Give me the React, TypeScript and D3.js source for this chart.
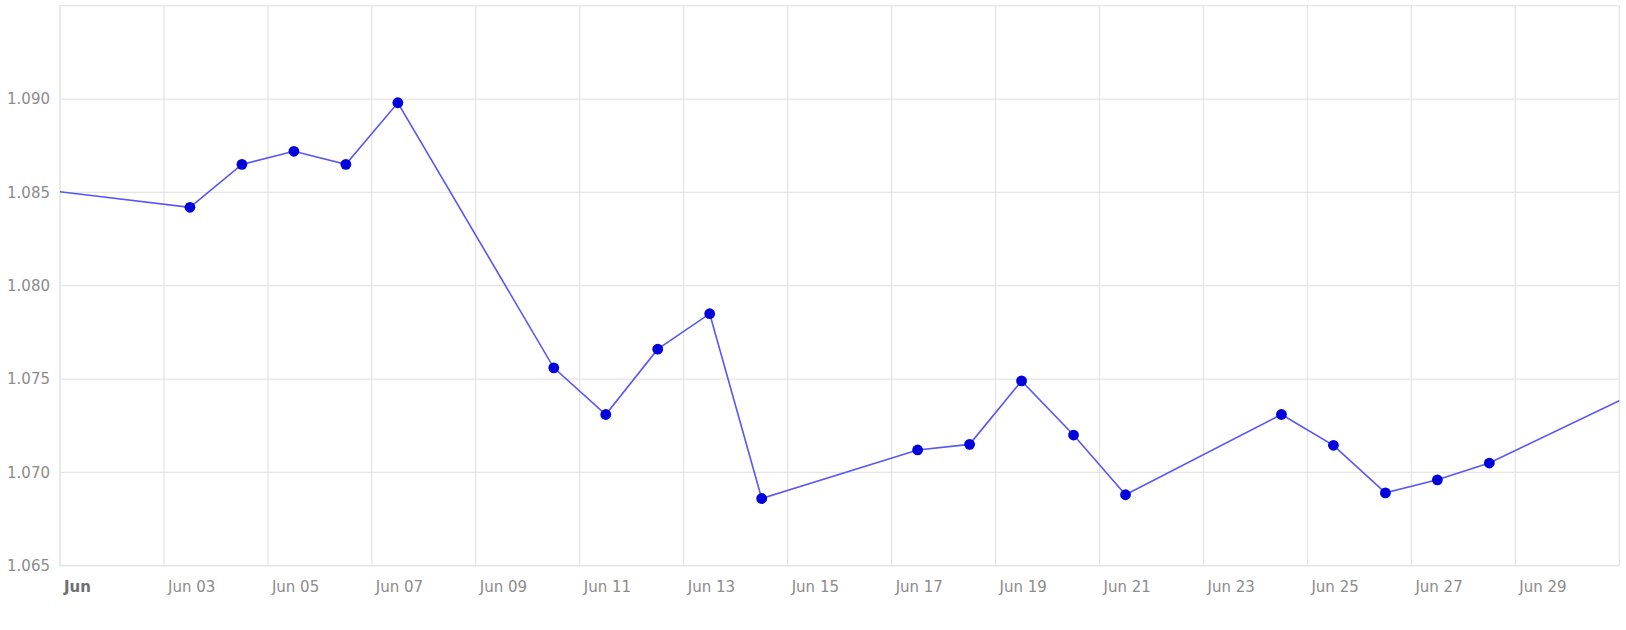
import React from "react";
import * as d3 from "d3";

const dates: string[] = [
  "2024-05-31T12:00", "2024-06-03T12:00", "2024-06-04T12:00", "2024-06-05T12:00", "2024-06-06T12:00", "2024-06-07T12:00",
  "2024-06-10T12:00", "2024-06-11T12:00", "2024-06-12T12:00", "2024-06-13T12:00", "2024-06-14T12:00",
  "2024-06-17T12:00", "2024-06-18T12:00", "2024-06-19T12:00", "2024-06-20T12:00", "2024-06-21T12:00",
  "2024-06-24T12:00", "2024-06-25T12:00", "2024-06-26T12:00", "2024-06-27T12:00", "2024-06-28T12:00",
  "2024-07-01T12:00",
];
const values: number[] = [
  1.0852, 1.0842, 1.0865, 1.0872, 1.0865, 1.0898,
  1.0756, 1.0731, 1.0766, 1.0785, 1.0686,
  1.0712, 1.0715, 1.0749, 1.0720, 1.0688,
  1.0731, 1.07145, 1.0689, 1.0696, 1.0705,
  1.0745,
];
const yTicks: number[] = [1.065, 1.07, 1.075, 1.08, 1.085, 1.09];
const xDomain: string[] = ["2024-06-01T00:00", "2024-07-01T00:00"];
const yDomain: number[] = [1.065, 1.095];

const W = 1626, H = 630;
const M = { left: 60, right: 6.7, top: 5.7, bottom: 64.3 };

export default function App() {
  const parse = (s: string) => new Date(s);
  const x = d3.scaleTime().domain(xDomain.map(parse)).range([M.left, W - M.right]);
  const y = d3.scaleLinear().domain(yDomain).range([H - M.bottom, M.top]);
  const data = dates.map((d, i) => ({ t: parse(d), v: values[i] }));
  const [x0, x1] = x.domain();
  const xTicks = d3.timeDay.range(x0, x1, 1).filter((d) => (d.getDate() - 1) % 2 === 0);
  const line = d3.line<{ t: Date; v: number }>().x((d) => x(d.t)).y((d) => y(d.v));
  const inside = data.filter((d) => d.t >= x0 && d.t <= x1);
  const grid = "#e4e4e4";
  const fmtY = d3.format(".3f");
  const fmtX = (d: Date) => (d.getDate() === 1 ? "Jun" : d3.timeFormat("%b %d")(d));
  const pw = W - M.left - M.right, ph = H - M.top - M.bottom;
  return (
    <svg width={W} height={H} style={{ position: "absolute", left: 0, top: 0, background: "#fff" }}
      fontFamily="'DejaVu Sans', Verdana, sans-serif">
      <defs>
        <clipPath id="plot">
          <rect x={M.left} y={M.top} width={pw} height={ph} />
        </clipPath>
      </defs>
      {yTicks.map((t) => (
        <line key={"gy" + t} x1={M.left} x2={W - M.right} y1={y(t)} y2={y(t)} stroke={grid} strokeWidth={1.2} />
      ))}
      {xTicks.map((t) => (
        <line key={"gx" + t.getTime()} x1={x(t)} x2={x(t)} y1={M.top} y2={H - M.bottom} stroke={grid} strokeWidth={1.2} />
      ))}
      <rect x={M.left} y={M.top} width={pw} height={ph} fill="none" stroke={grid} strokeWidth={1.2} />
      {yTicks.map((t) => (
        <text key={"ly" + t} x={50} y={y(t)} dy="0.35em" textAnchor="end" fontSize={15} fill="#8c8c8c">
          {fmtY(t)}
        </text>
      ))}
      {xTicks.map((t) => (
        <text key={"lx" + t.getTime()} x={x(t) + 4} y={591.5} fontSize={15}
          fill={t.getDate() === 1 ? "#707070" : "#8c8c8c"} fontWeight={t.getDate() === 1 ? "bold" : "normal"}>
          {fmtX(t)}
        </text>
      ))}
      <g clipPath="url(#plot)">
        <path d={line(data) || ""} fill="none" stroke="#5757f5" strokeWidth={1.6} />
        {inside.map((d) => (
          <circle key={d.t.getTime()} cx={x(d.t)} cy={y(d.v)} r={5.4} fill="#0000dd" />
        ))}
      </g>
    </svg>
  );
}
